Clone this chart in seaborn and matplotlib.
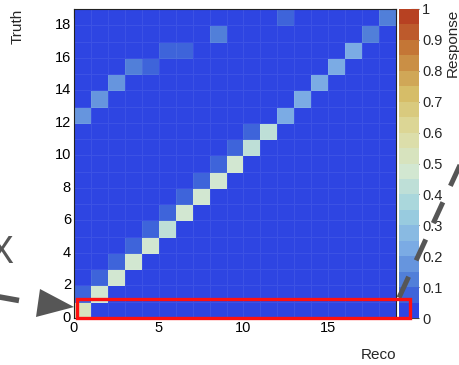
import numpy as np
import pandas as pd
import matplotlib
matplotlib.use("Agg")
import matplotlib.pyplot as plt
from matplotlib.colors import LinearSegmentedColormap, ListedColormap
from matplotlib.patches import Rectangle, Polygon
from matplotlib.lines import Line2D
import seaborn as sns

# ---- data: detector response matrix (truth bin vs reco bin) ----
n_bins = 19
bins = list(range(n_bins))

# probability to stay in the same bin
diag_response = [0.52, 0.48, 0.49, 0.48, 0.45, 0.44, 0.45, 0.46, 0.47, 0.47,
                 0.44, 0.44, 0.22, 0.22, 0.22, 0.22, 0.21, 0.14, 0.11]

# migration into the neighbouring lower reco bin
lower_truth = [1, 2, 3, 4, 5, 6, 7, 8, 9, 10, 11]
lower_response = [0.09, 0.08, 0.08, 0.07, 0.07, 0.07, 0.07, 0.07, 0.08, 0.09, 0.08]

# secondary band of migrations
band_truth = [12, 13, 14, 15, 15, 16, 16, 17, 18]
band_reco = [0, 1, 2, 3, 4, 5, 6, 8, 12]
band_response = [0.18, 0.18, 0.18, 0.13, 0.08, 0.09, 0.09, 0.13, 0.09]

# colorbar ticks
cbar_ticks = [0.0, 0.1, 0.2, 0.3, 0.4, 0.5, 0.6, 0.7, 0.8, 0.9, 1.0]
cbar_labels = ["0", "0.1", "0.2", "0.3", "0.4", "0.5", "0.6", "0.7", "0.8", "0.9", "1"]

# ---- assemble matrix ----
resp = np.zeros((n_bins, n_bins))
for i, v in enumerate(diag_response):
    resp[i, i] = v
for t, v in zip(lower_truth, lower_response):
    resp[t, t - 1] = v
for t, r, v in zip(band_truth, band_reco, band_response):
    resp[t, r] = v
df = pd.DataFrame(resp, index=bins, columns=bins)

# ---- light-temperature palette, 20 contour levels ----
stops = [0.0, 0.125, 0.25, 0.375, 0.5, 0.625, 0.75, 0.875, 1.0]
red = [31, 71, 123, 160, 210, 222, 214, 199, 183]
green = [40, 117, 171, 211, 231, 220, 190, 132, 65]
blue = [234, 214, 228, 222, 210, 160, 105, 60, 34]
base = LinearSegmentedColormap.from_list(
    "lighttemp",
    [(s, (r / 255, g / 255, b / 255)) for s, r, g, b in zip(stops, red, green, blue)])
n_levels = 20
cmap = ListedColormap([base(min((i + 1) / n_levels, 1.0)) for i in range(n_levels)])

# ---- figure ----
sns.set_theme(style="white")
plt.rcParams["font.family"] = ["Liberation Sans", "DejaVu Sans"]

W, H = 460, 365
fig = plt.figure(figsize=(W / 100, H / 100), dpi=100)
left, right, top, bottom = 74, 396, 9, 318
ax = fig.add_axes([left / W, 1 - bottom / H, (right - left) / W, (bottom - top) / H])
cax = fig.add_axes([399 / W, 1 - bottom / H, 20 / W, (bottom - top) / H])

sns.heatmap(df, ax=ax, cmap=cmap, vmin=0, vmax=1, cbar_ax=cax,
            linewidths=0.6, linecolor=(1, 1, 1, 0.07))

ax.set_xlim(0, n_bins)
ax.set_ylim(0, n_bins)
for s in ax.spines.values():
    s.set_visible(True)
    s.set_color("#222222")
    s.set_linewidth(0.8)

ax.set_xticks([0, 5, 10, 15])
ax.set_xticklabels(["0", "5", "10", "15"], rotation=0)
ax.set_xticks(np.arange(0, n_bins + 1, 1), minor=True)
ax.set_yticks(np.arange(0, n_bins, 2))
ax.set_yticklabels([str(v) for v in range(0, n_bins, 2)], rotation=0)
ax.set_yticks(np.arange(0, n_bins + 0.01, 0.5), minor=True)

ax.tick_params(which="both", direction="in", top=True, right=True,
               color="#222222", width=0.8, labelsize=10.5, labelcolor="black")
ax.tick_params(axis="x", which="major", length=6.5, pad=2)
ax.tick_params(axis="x", which="minor", length=3.3)
ax.tick_params(axis="y", which="major", length=6, pad=2.2)
ax.tick_params(axis="y", which="minor", length=3)

ax.set_xlabel("Reco", loc="right", fontsize=11)
ax.xaxis.set_label_coords(1.0, -0.098)
ax.set_ylabel("Truth", loc="top", fontsize=11)
ax.yaxis.set_label_coords(-0.152, 1.0)

# colorbar styling
cb = ax.collections[0].colorbar
cb.set_ticks(cbar_ticks)
cb.set_ticklabels(cbar_labels)
cax.tick_params(direction="in", length=6, width=0.8, color="#444444",
                right=True, left=False, labelright=True, labelleft=False,
                labelsize=10.5, pad=2.2)
cax.yaxis.set_ticks([], minor=True)
cax.set_ylabel("Response", loc="top", fontsize=11)
cax.yaxis.set_label_position("right")
cax.yaxis.set_label_coords(2.35, 1.0)

# ---- annotation layer (pixel coordinates) ----
ov = fig.add_axes([0, 0, 1, 1])
ov.set_xlim(0, W)
ov.set_ylim(H, 0)
ov.axis("off")
ov.patch.set_visible(False)

grey = "#565656"

# highlight first truth bin
ov.add_patch(Rectangle((0.15, 0.03), 19.65, 1.11, transform=ax.transData,
                       fill=False, edgecolor="#ff1010", linewidth=2.4,
                       clip_on=False, zorder=5))

# arrow from the left
ov.add_line(Line2D([-6, 19], [296, 300.5], color=grey, linewidth=4.0,
                   solid_capstyle="butt"))
ov.add_patch(Polygon([(74, 307), (40, 289), (36, 317)], closed=True,
                     facecolor=grey, edgecolor="none"))
ov.text(13, 253, "X", ha="right", va="center", fontsize=27, color=grey)

# dashed pointer from the right
dash_line = Line2D([460, 397], [165, 302], color=grey, linewidth=3.6,
                   dash_capstyle="butt")
dash_line.set_dashes((4.6, 3.6))
ov.add_line(dash_line)

fig.savefig("out.png", dpi=100)
